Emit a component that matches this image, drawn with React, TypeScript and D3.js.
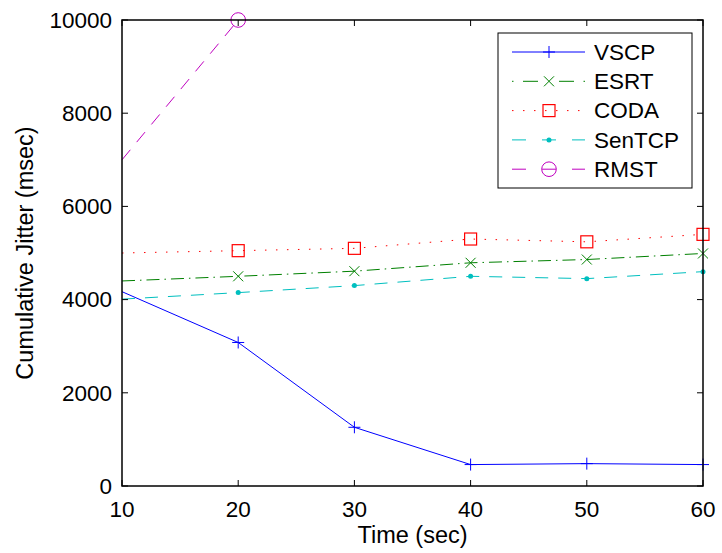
import React from "react";
import * as d3 from "d3";

// x positions (sec)
const times = [10, 20, 30, 40, 50, 60];

// cumulative jitter (msec)
const vscp = [4170, 3080, 1260, 460, 480, 460];
const esrt = [4400, 4500, 4610, 4790, 4860, 4990];
const coda = [5000, 5050, 5100, 5300, 5240, 5400];
const sentcp = [4010, 4150, 4300, 4500, 4450, 4600];
const rmst = [7000, 10000]; // rest goes off the top

const xTicks = [10, 20, 30, 40, 50, 60];
const yTicks = [0, 2000, 4000, 6000, 8000, 10000];

const series = [
  { name: "VSCP", values: vscp, color: "#0000ff", dash: null, legendDash: null, marker: "plus" },
  { name: "ESRT", values: esrt, color: "#008000", dash: "13 5 1.5 5", legendDash: "1.5 9.5 15 21 15 9.5 1.5 10", marker: "x" },
  { name: "CODA", values: coda, color: "#ff0000", dash: "1.5 9.5", legendDash: "1.5 9.5", marker: "square" },
  { name: "SenTCP", values: sentcp, color: "#00bfbf", dash: "13 10", legendDash: "14 16", marker: "dot" },
  { name: "RMST", values: rmst, color: "#bf00bf", dash: "13 10", legendDash: "14 16", marker: "circle" },
];

const font = "'Liberation Sans', Arial, Helvetica, sans-serif";

function Marker({ type, x, y, color }: { type: string; x: number; y: number; color: string }) {
  const s = 6;
  if (type === "plus")
    return (
      <path d={`M${x - s},${y}H${x + s}M${x},${y - s}V${y + s}`} stroke={color} strokeWidth={1} fill="none" />
    );
  if (type === "x")
    return (
      <path
        d={`M${x - 5},${y - 5}L${x + 5},${y + 5}M${x - 5},${y + 5}L${x + 5},${y - 5}`}
        stroke={color}
        strokeWidth={1}
        fill="none"
      />
    );
  if (type === "square")
    return <rect x={x - 6} y={y - 6} width={12} height={12} stroke={color} strokeWidth={1.2} fill="none" />;
  if (type === "dot") return <circle cx={x} cy={y} r={2.5} fill={color} />;
  return <circle cx={x} cy={y} r={7.3} stroke={color} strokeWidth={1} fill="none" />;
}

export default function App() {
  const width = 722;
  const height = 553;
  const left = 122;
  const right = 703;
  const top = 20;
  const bottom = 486;

  const x = d3.scaleLinear().domain([10, 60]).range([left, right]);
  const y = d3.scaleLinear().domain([0, 10000]).range([bottom, top]);

  const line = d3
    .line<number>()
    .x((_, i) => x(times[i]))
    .y((d) => y(d));

  // legend geometry
  const lgLeft = 498;
  const lgTop = 33;
  const lgRight = 692;
  const lgBottom = 188;
  const rowY = (i: number) => 52 + i * 29.3;

  return (
    <svg width={width} height={height} style={{ position: "absolute", left: 0, top: 0, background: "#fff" }}>
      <rect x={0} y={0} width={width} height={height} fill="#fff" />

      {/* data lines; the first point sits on the left edge and has no marker */}
      {series.map((s) => (
        <g key={s.name}>
          <path
            d={line(s.values) || ""}
            fill="none"
            stroke={s.color}
            strokeWidth={1}
            strokeDasharray={s.dash || undefined}
          />
          {s.values.map((v, i) =>
            i === 0 ? null : <Marker key={i} type={s.marker} x={x(times[i])} y={y(v)} color={s.color} />
          )}
        </g>
      ))}

      {/* axes box and ticks */}
      <rect x={left} y={top} width={right - left} height={bottom - top} fill="none" stroke="#000" strokeWidth={1.5} />
      {xTicks.map((t) => (
        <g key={"x" + t}>
          <line x1={x(t)} x2={x(t)} y1={bottom} y2={bottom - 6} stroke="#000" />
          <line x1={x(t)} x2={x(t)} y1={top} y2={top + 6} stroke="#000" />
          <text x={x(t)} y={517} textAnchor="middle" fontFamily={font} fontSize={22.5} fill="#000">
            {t}
          </text>
        </g>
      ))}
      {yTicks.map((t) => (
        <g key={"y" + t}>
          <line x1={left} x2={left + 6} y1={y(t)} y2={y(t)} stroke="#000" />
          <line x1={right} x2={right - 6} y1={y(t)} y2={y(t)} stroke="#000" />
          <text
            x={112}
            y={y(t)}
            dy="0.35em"
            textAnchor="end"
            fontFamily={font}
            fontSize={22.5}
            fill="#000"
          >
            {t}
          </text>
        </g>
      ))}

      {/* axis labels */}
      <text x={(left + right) / 2} y={543} textAnchor="middle" fontFamily={font} fontSize={23.5} fill="#000">
        Time (sec)
      </text>
      <text
        transform={`translate(33,${(top + bottom) / 2}) rotate(-90)`}
        textAnchor="middle"
        fontFamily={font}
        fontSize={23.5}
        fill="#000"
      >
        Cumulative Jitter (msec)
      </text>

      {/* legend */}
      <rect
        x={lgLeft}
        y={lgTop}
        width={lgRight - lgLeft}
        height={lgBottom - lgTop}
        fill="#fff"
        stroke="#000"
        strokeWidth={1}
      />
      {series.map((s, i) => (
        <g key={"lg" + s.name}>
          <line
            x1={512}
            x2={585}
            y1={rowY(i)}
            y2={rowY(i)}
            stroke={s.color}
            strokeWidth={1}
            strokeDasharray={s.legendDash || undefined}
          />
          <Marker type={s.marker} x={549} y={rowY(i)} color={s.color} />
          <text x={594} y={rowY(i)} dy="0.35em" fontFamily={font} fontSize={22.5} fill="#000">
            {s.name}
          </text>
        </g>
      ))}
    </svg>
  );
}
